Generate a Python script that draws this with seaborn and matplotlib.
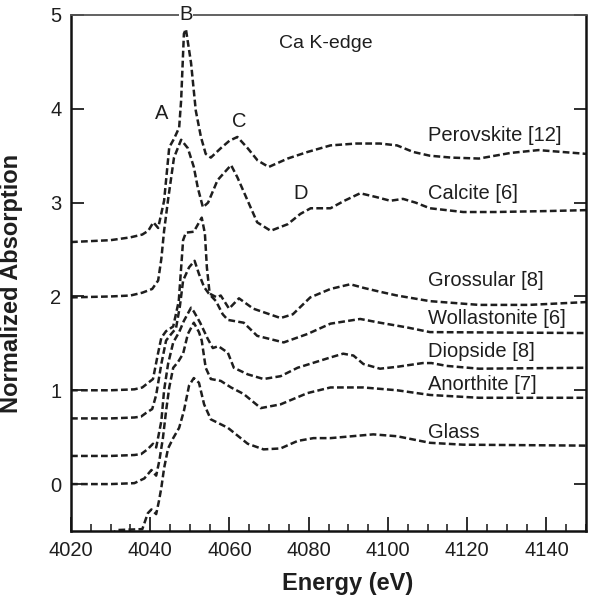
import numpy as np
import pandas as pd
import matplotlib
matplotlib.use("Agg")
import matplotlib.pyplot as plt
from matplotlib.ticker import MultipleLocator
import seaborn as sns

# Ca K-edge XANES spectra, offset vertically for clarity
perovskite_e = [4020, 4030, 4035, 4038, 4039.5, 4040.8, 4042, 4043.5, 4044.8, 4046, 4047.3, 4047.8,
                4048.5, 4049, 4050.3, 4051.5, 4052.8, 4054, 4055.3, 4057.8, 4060, 4062, 4064.6, 4067.1,
                4069.9, 4074.7, 4079.7, 4085.5, 4092, 4098, 4102.3, 4106.4, 4110.6, 4116, 4123, 4131,
                4138, 4144, 4150]
perovskite_a = [2.58, 2.60, 2.63, 2.66, 2.70, 2.79, 2.73, 3.02, 3.59, 3.68, 3.80, 4.09,
                4.80, 4.85, 4.49, 3.98, 3.70, 3.52, 3.48, 3.58, 3.66, 3.70, 3.58, 3.45,
                3.38, 3.47, 3.54, 3.61, 3.63, 3.63, 3.61, 3.54, 3.50, 3.48, 3.47, 3.53,
                3.56, 3.54, 3.52]

calcite_e = [4020, 4030, 4035, 4038, 4040.5, 4042.0, 4042.8, 4043.5, 4044.5, 4046.0, 4047.8, 4049.5,
             4051.0, 4052.0, 4053.3, 4054.6, 4057.0, 4060.4, 4062.0, 4064.6, 4067.0, 4070.4, 4074.7,
             4077.9, 4080.5, 4085.5, 4089, 4093.0, 4097, 4100.6, 4103.8, 4107, 4110.6, 4119.0, 4127.0,
             4140, 4150]
calcite_a = [1.99, 2.00, 2.01, 2.04, 2.08, 2.17, 2.40, 2.70, 3.03, 3.48, 3.67, 3.58,
             3.38, 3.16, 2.95, 3.00, 3.24, 3.40, 3.27, 3.02, 2.79, 2.70, 2.77,
             2.88, 2.94, 2.94, 3.02, 3.10, 3.06, 3.02, 3.04, 3.00, 2.94, 2.90, 2.90,
             2.91, 2.92]

grossular_e = [4020, 4030, 4036, 4038, 4040.7, 4042.0, 4042.8, 4044.0, 4045.8, 4047.2, 4048.3, 4049.0,
               4051.0, 4053.0, 4053.8, 4054.3, 4055.0, 4056.8, 4057.8, 4059.9, 4062.4, 4066.0, 4072.9,
               4076.0, 4080.4, 4085.5, 4090.5, 4094, 4098.0, 4102.3, 4110.6, 4123.0, 4135.7, 4150]
grossular_a = [1.00, 1.00, 1.01, 1.03, 1.12, 1.40, 1.56, 1.63, 1.68, 1.95, 2.60, 2.68,
               2.69, 2.84, 2.67, 2.31, 2.03, 1.99, 2.01, 1.87, 1.98, 1.87, 1.77,
               1.81, 1.99, 2.08, 2.13, 2.09, 2.05, 2.01, 1.95, 1.91, 1.91, 1.94]

wollastonite_e = [4020, 4030, 4036, 4037.7, 4039, 4040.5, 4041.5, 4042.8, 4044.0, 4045.3, 4046.5, 4047.5,
                  4048.3, 4049.8, 4051.2, 4052.3, 4053.6, 4054.8, 4056.6, 4058.3, 4059.6, 4063.6, 4067.0,
                  4073.7, 4079.7, 4085.5, 4093.0, 4098.0, 4104.8, 4110.6, 4150]
wollastonite_a = [0.70, 0.70, 0.71, 0.72, 0.76, 0.80, 0.95, 1.28, 1.53, 1.60, 1.66, 1.90,
                  2.17, 2.31, 2.38, 2.24, 2.10, 2.03, 1.95, 1.81, 1.75, 1.72, 1.58,
                  1.51, 1.60, 1.71, 1.76, 1.72, 1.67, 1.62, 1.61]

diopside_e = [4020, 4030, 4036, 4037.7, 4039.3, 4040.7, 4041.5, 4042.8, 4043.5, 4044.5, 4045.8, 4047.3,
              4048.5, 4050.3, 4051.0, 4052.6, 4054.5, 4055.8, 4057.2, 4059.6, 4061.1, 4064.6, 4068.6,
              4072.9, 4077.2, 4085.5, 4088.7, 4091.3, 4093.8, 4098.0, 4102.3, 4108.8, 4111, 4114.8,
              4123.0, 4150]
diopside_a = [0.30, 0.30, 0.31, 0.32, 0.37, 0.43, 0.39, 0.67, 1.00, 1.28, 1.51, 1.62,
              1.74, 1.88, 1.84, 1.72, 1.55, 1.45, 1.47, 1.40, 1.24, 1.17, 1.12,
              1.15, 1.24, 1.35, 1.39, 1.37, 1.28, 1.23, 1.25, 1.29, 1.29, 1.26,
              1.23, 1.24]

anorthite_e = [4020, 4030, 4036, 4038.5, 4040.3, 4041.5, 4042.3, 4043.2, 4044.0, 4044.8, 4045.8, 4047.0,
               4048.3, 4049.5, 4051.0, 4052.3, 4053.0, 4054.0, 4055.3, 4057.8, 4060.4, 4063.6, 4067.9,
               4072.9, 4079.7, 4085.5, 4093.8, 4102.3, 4110.6, 4123.0, 4150]
anorthite_a = [0.00, 0.00, 0.01, 0.06, 0.15, 0.09, 0.25, 0.49, 0.78, 1.03, 1.24, 1.30,
               1.39, 1.60, 1.72, 1.62, 1.53, 1.24, 1.12, 1.10, 1.03, 0.96, 0.81,
               0.85, 0.97, 1.03, 1.03, 1.00, 0.95, 0.92, 0.92]

glass_e = [4020, 4030, 4031.5, 4038.0, 4039.4, 4040.3, 4041.5, 4042.2, 4042.8, 4043.5, 4044.5, 4045.8,
           4047.3, 4048.5, 4049.8, 4051.0, 4052.3, 4053.6, 4055.3, 4059.6, 4064.6, 4068.6, 4072.9,
           4077.2, 4081.2, 4085.5, 4096.3, 4102.3, 4110.6, 4119.0, 4150]
glass_a = [-0.60, -0.55, -0.49, -0.48, -0.31, -0.27, -0.32, -0.18, -0.04, 0.17, 0.38, 0.49,
           0.60, 0.78, 1.05, 1.13, 1.08, 0.85, 0.69, 0.60, 0.43, 0.37, 0.38,
           0.46, 0.49, 0.49, 0.53, 0.51, 0.44, 0.42, 0.41]

sample_names = ["Perovskite [12]", "Calcite [6]", "Grossular [8]", "Wollastonite [6]",
                "Diopside [8]", "Anorthite [7]", "Glass"]
label_y = [3.72, 3.10, 2.17, 1.76, 1.41, 1.06, 0.545]

spectra = [(perovskite_e, perovskite_a), (calcite_e, calcite_a), (grossular_e, grossular_a),
           (wollastonite_e, wollastonite_a), (diopside_e, diopside_a),
           (anorthite_e, anorthite_a), (glass_e, glass_a)]

frames = []
for name, (e, a) in zip(sample_names, spectra):
    frames.append(pd.DataFrame({"energy": e, "absorption": a, "sample": name}))
df = pd.concat(frames, ignore_index=True)

# peak markers
feature_labels = ["A", "B", "C", "D"]
feature_x = [4042.8, 4049.0, 4062.4, 4078.0]
feature_y = [3.95, 5.0, 3.86, 3.10]

sns.set_theme(style="ticks")
plt.rcParams["font.family"] = ["Liberation Sans", "DejaVu Sans"]

ink = "#1e1e1e"
fig = plt.figure(figsize=(5.9, 6.0), dpi=100)
ax = fig.add_axes([71 / 590, 1 - 531 / 600, 515 / 590, 516 / 600])

for name in sample_names:
    sub = df[df["sample"] == name]
    sns.lineplot(data=sub, x="energy", y="absorption", ax=ax, color=ink,
                 estimator=None, sort=False, linewidth=1.8,
                 linestyle=(0, (2.7, 1.3)), legend=False)

for name, y in zip(sample_names, label_y):
    ax.text(4110, y, name, ha="left", va="center", fontsize=14.5, color=ink)

for lab, x, y in zip(feature_labels, feature_x, feature_y):
    kw = {}
    if lab == "B":
        kw = dict(bbox=dict(facecolor="white", edgecolor="none", pad=0.5), zorder=5, clip_on=False)
    ax.text(x, y, lab, ha="center", va="center", fontsize=14.5, color=ink, **kw)

ax.text(4084.2, 4.70, "Ca K-edge", ha="center", va="center", fontsize=14, color=ink)

ax.set_xlim(4020, 4150)
ax.set_ylim(-0.5, 5)
ax.xaxis.set_major_locator(MultipleLocator(20))
ax.xaxis.set_minor_locator(MultipleLocator(5))
ax.yaxis.set_major_locator(MultipleLocator(1))
ax.tick_params(axis="x", which="major", direction="in", length=10, width=1.3,
               top=False, bottom=True, labelsize=14.5, pad=7, colors=ink)
ax.tick_params(axis="x", which="minor", direction="in", length=5, width=1.2,
               top=False, bottom=True)
ax.tick_params(axis="y", which="major", direction="in", length=9, width=1.3,
               left=True, right=True, labelsize=14.5, pad=7, colors=ink)

for side in ["left", "bottom", "right"]:
    ax.spines[side].set_linewidth(1.8)
    ax.spines[side].set_color("#111111")
ax.spines["top"].set_linewidth(1.3)
ax.spines["top"].set_color("#555555")

ax.set_xlabel("Energy (eV)", fontsize=17, fontweight="bold", color=ink)
ax.set_ylabel("Normalized Absorption", fontsize=17, fontweight="bold", color=ink)
ax.xaxis.set_label_coords(0.538, -0.08)
ax.yaxis.set_label_coords(-0.093, 0.48)

fig.savefig("out.png", dpi=100)
